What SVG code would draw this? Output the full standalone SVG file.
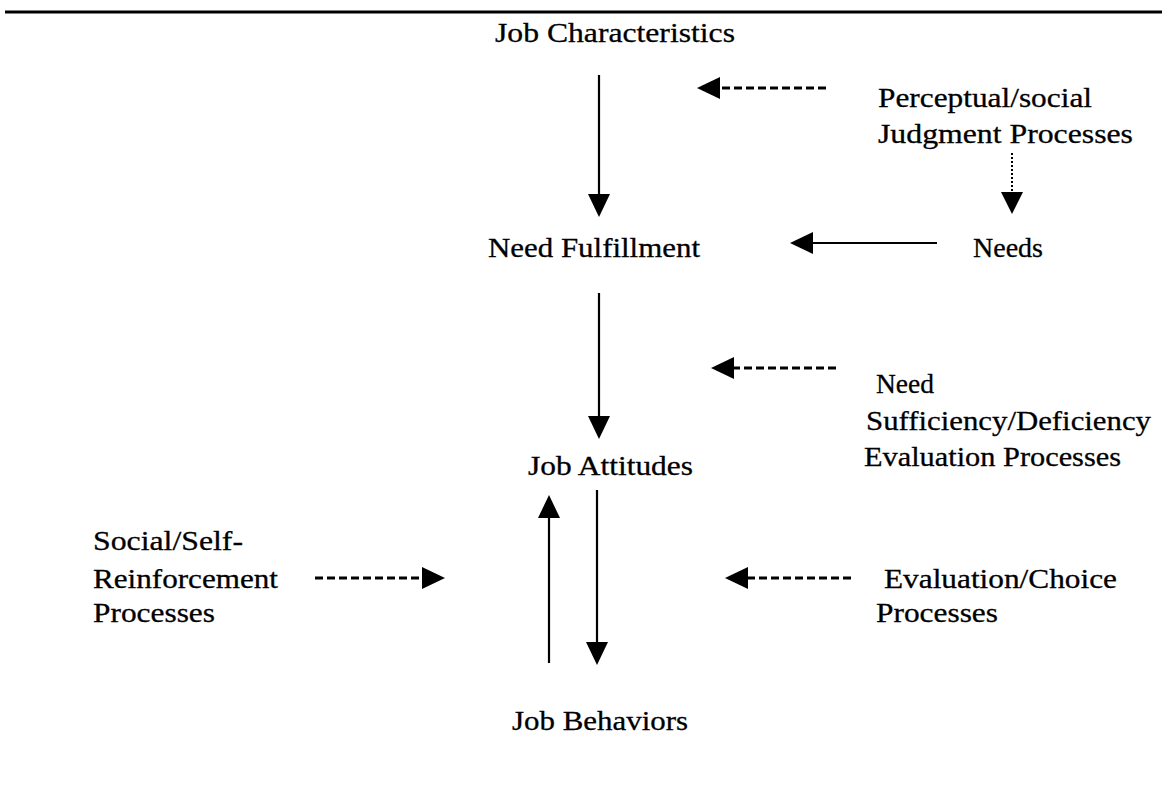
<svg xmlns="http://www.w3.org/2000/svg" width="1170" height="802" viewBox="0 0 1170 802">
<style>
text{font-family:"Liberation Serif","Times New Roman",Times,serif;font-size:28px;fill:#000;stroke:#000;stroke-width:0.3}
.solid{stroke:#000;stroke-width:2.2;fill:none}
.dash{stroke:#000;stroke-width:3;stroke-dasharray:8 4;fill:none}
.dot{stroke:#000;stroke-width:2;stroke-dasharray:2 2;fill:none}
.head{fill:#000}
</style>
<rect width="1170" height="802" fill="#fff"/>
<line x1="5" y1="12" x2="1162" y2="12" stroke="#000" stroke-width="3"/>
<g id="job-characteristics"><text x="495" y="42" textLength="240" lengthAdjust="spacingAndGlyphs">Job Characteristics</text></g>
<g id="perceptual"><text x="878" y="107" textLength="214" lengthAdjust="spacingAndGlyphs">Perceptual/social</text><text x="878" y="143" textLength="255" lengthAdjust="spacingAndGlyphs">Judgment Processes</text></g>
<g id="need-fulfillment"><text x="488" y="257" textLength="212" lengthAdjust="spacingAndGlyphs">Need Fulfillment</text></g>
<g id="needs"><text x="973" y="257" textLength="70" lengthAdjust="spacingAndGlyphs">Needs</text></g>
<g id="need-sufficiency"><text x="876" y="393" textLength="58" lengthAdjust="spacingAndGlyphs">Need</text><text x="866" y="430" textLength="285" lengthAdjust="spacingAndGlyphs">Sufficiency/Deficiency</text><text x="864" y="466" textLength="257" lengthAdjust="spacingAndGlyphs">Evaluation Processes</text></g>
<g id="job-attitudes"><text x="528" y="475" textLength="165" lengthAdjust="spacingAndGlyphs">Job Attitudes</text></g>
<g id="social-self"><text x="93" y="550" textLength="150" lengthAdjust="spacingAndGlyphs">Social/Self-</text><text x="93" y="588" textLength="185" lengthAdjust="spacingAndGlyphs">Reinforcement</text><text x="93" y="622" textLength="122" lengthAdjust="spacingAndGlyphs">Processes</text></g>
<g id="evaluation-choice"><text x="884" y="588" textLength="233" lengthAdjust="spacingAndGlyphs">Evaluation/Choice</text><text x="876" y="622" textLength="122" lengthAdjust="spacingAndGlyphs">Processes</text></g>
<g id="job-behaviors"><text x="512" y="730" textLength="176" lengthAdjust="spacingAndGlyphs">Job Behaviors</text></g>
<g id="connectors">
<line class="solid" x1="599" y1="75" x2="599" y2="196"/><polygon class="head" points="588,194 610,194 599,217"/>
<line class="dash" x1="826" y1="88" x2="718" y2="88"/><polygon class="head" points="720,77 720,99 697,88"/>
<line class="dot" x1="1012" y1="153" x2="1012" y2="194"/><polygon class="head" points="1001,192 1023,192 1012,214"/>
<line class="solid" x1="937" y1="243" x2="810" y2="243"/><polygon class="head" points="813,232 813,254 790,243"/>
<line class="solid" x1="599" y1="293" x2="599" y2="418"/><polygon class="head" points="588,416 610,416 599,439"/>
<line class="dash" x1="836" y1="368" x2="732" y2="368"/><polygon class="head" points="734,357 734,379 711,368"/>
<line class="solid" x1="549" y1="663" x2="549" y2="516"/><polygon class="head" points="538,518 560,518 549,495"/>
<line class="solid" x1="597" y1="490" x2="597" y2="645"/><polygon class="head" points="586,642 608,642 597,665"/>
<line class="dash" x1="315" y1="578" x2="424" y2="578"/><polygon class="head" points="422,567 422,589 445,578"/>
<line class="dash" x1="851" y1="578" x2="746" y2="578"/><polygon class="head" points="748,567 748,589 725,578"/>
</g>
</svg>
